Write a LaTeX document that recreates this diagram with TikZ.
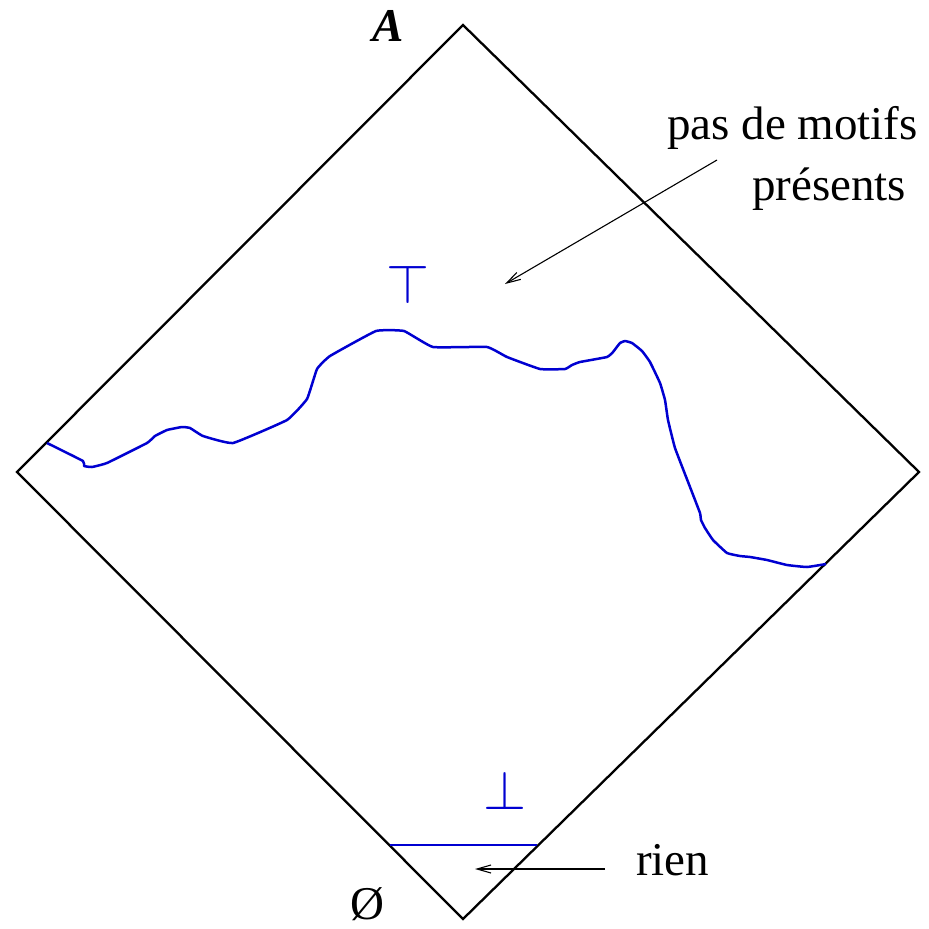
\documentclass[tikz,border=0pt]{standalone}
\usepackage{fontspec}
\usepackage{graphicx}
\setmainfont{Liberation Serif}
\usetikzlibrary{arrows.meta}
\definecolor{curveblue}{rgb}{0,0,0.82}
\begin{document}
\begin{tikzpicture}[x=1pt,y=-1pt,
  edge/.style={line width=2.3pt,line join=miter},
  blueline/.style={curveblue,line width=2.5pt,line join=round},
  pointer/.style={line width=1.1pt,-{Straight Barb[length=14pt,width=8pt,line width=1.1pt]}},
  lbl/.style={font=\fontsize{47}{52}\selectfont,inner sep=0pt,anchor=base west},
  sym/.style={text=curveblue,inner sep=0pt}]
\useasboundingbox (0,0) rectangle (929,929);
% lattice diamond
\coordinate (T) at (463,25);
\coordinate (L) at (17,472);
\coordinate (R) at (919,472);
\coordinate (B) at (463,919);
\draw[edge] (T) -- (R) -- (B) -- (L) -- cycle;
% border curve
\draw[blueline] plot[smooth,tension=0.2] coordinates {
(47,443) (83,461) (84,466) (92,467) (107,463) (147,443) (155,436) (167,430)
(182,427) (190,428) (203,436) (233,443) (287,420) (307,399) (317,369) (330,356)
(376,331) (404,331) (433,347) (487,347) (507,357) (540,369) (565,369) (572,365)
(580,362) (607,357) (613,352) (620,343) (625,341) (632,343) (642,351) (650,362)
(660,383) (665,400) (668,420) (675,448) (690,487) (700,513) (701,520) (705,528)
(713,540) (727,553) (740,556) (750,557) (767,560) (787,565) (807,567) (826,564)};
% bottom line
\coordinate (b1) at (390,845);
\coordinate (b2) at (537,845);
\draw[blueline] (b1) -- (b2);
% symbols
\node[sym] (top) at (408,284) {\resizebox{43pt}{!}{$\top$}};
\node[sym] (bot) at (505,790) {\resizebox{43pt}{!}{$\bot$}};
% labels
\node[lbl,anchor=base] (A) at (388,41) {\textbf{\textit{A}}};
\node[lbl,anchor=base] (empty) at (367,919) {Ø};
\node[lbl] (pas) at (667,139) {pas de motifs};
\node[lbl] (pres) at (752,200) {présents};
\node[lbl] (rien) at (636,875) {rien};
% pointers
\coordinate (p1) at (717,160);
\coordinate (p2) at (505,284);
\coordinate (r1) at (605,869);
\coordinate (r2) at (475,869);
\draw[pointer] (p1) -- (p2);
\draw[pointer] (r1) -- (r2);
\end{tikzpicture}
\end{document}
